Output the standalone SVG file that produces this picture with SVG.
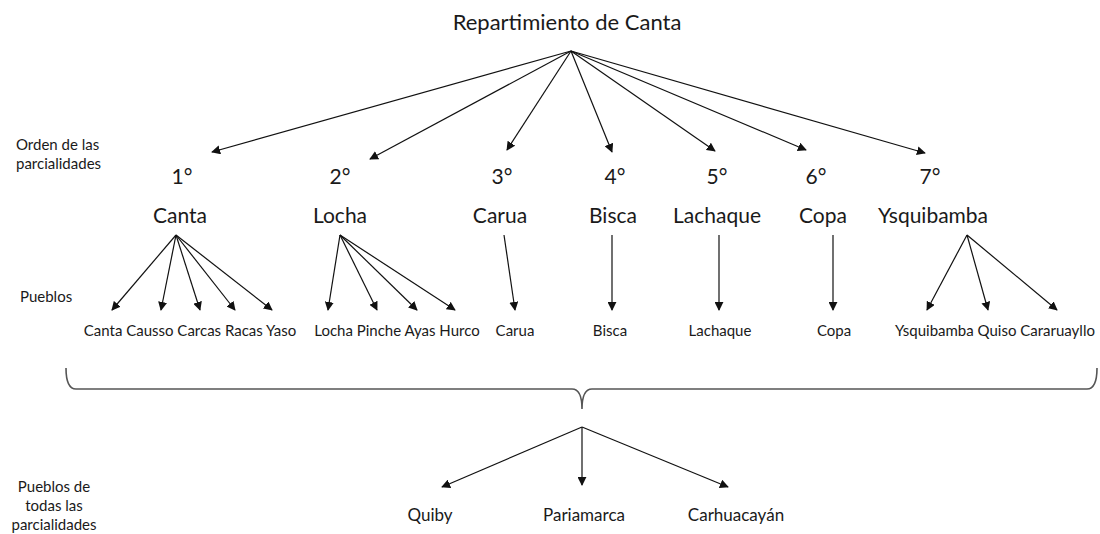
<svg xmlns="http://www.w3.org/2000/svg" width="1100" height="534" viewBox="0 0 1100 534">
<defs>
<marker id="ah" viewBox="0 0 10 10" refX="9" refY="5" markerWidth="9" markerHeight="9" markerUnits="userSpaceOnUse" orient="auto">
<path d="M0,0 L10,5 L0,10 z" fill="#111"/>
</marker>
</defs>
<style>
text{font-family:Lato,"Open Sans","Liberation Sans",sans-serif;fill:#1a1a1a}
.t{font-size:22px}
.n{font-size:21px;text-anchor:middle}
.s{font-size:15px;text-anchor:middle}
.b{font-size:17px;text-anchor:middle}
.l{font-size:15px}
.lc{font-size:15px;text-anchor:middle}
#connectors line{stroke:#111;stroke-width:1.2;marker-end:url(#ah)}
.brace{fill:none;stroke:#555;stroke-width:1.6}
</style>
<rect width="1100" height="534" fill="#fff"/>
<g id="title"><text class="t" x="567" y="30" text-anchor="middle">Repartimiento de Canta</text></g>
<g id="label-orden"><text class="l" x="16" y="150">Orden de las</text><text class="l" x="16" y="169">parcialidades</text></g>
<g id="label-pueblos"><text class="l" x="20" y="302">Pueblos</text></g>
<g id="label-todas"><text class="lc" x="54" y="492">Pueblos de</text><text class="lc" x="54" y="511">todas  las</text><text class="lc" x="54" y="530">parcialidades</text></g>
<g id="p1"><text class="n" x="182" y="184">1°</text><text class="n" x="180" y="223">Canta</text></g>
<g id="p2"><text class="n" x="340" y="184">2°</text><text class="n" x="340" y="223">Locha</text></g>
<g id="p3"><text class="n" x="502" y="184">3°</text><text class="n" x="500" y="223">Carua</text></g>
<g id="p4"><text class="n" x="615" y="184">4°</text><text class="n" x="613" y="223">Bisca</text></g>
<g id="p5"><text class="n" x="717" y="184">5°</text><text class="n" x="717" y="223">Lachaque</text></g>
<g id="p6"><text class="n" x="816" y="184">6°</text><text class="n" x="823" y="223">Copa</text></g>
<g id="p7"><text class="n" x="930" y="184">7°</text><text class="n" x="933" y="223">Ysquibamba</text></g>
<g id="pueblos-canta"><text class="s" x="190" y="336">Canta Causso Carcas Racas Yaso</text></g>
<g id="pueblos-locha"><text class="s" x="397" y="336">Locha Pinche Ayas Hurco</text></g>
<g id="pueblos-carua"><text class="s" x="515" y="336">Carua</text></g>
<g id="pueblos-bisca"><text class="s" x="610" y="336">Bisca</text></g>
<g id="pueblos-lachaque"><text class="s" x="720" y="336">Lachaque</text></g>
<g id="pueblos-copa"><text class="s" x="834" y="336">Copa</text></g>
<g id="pueblos-ysquibamba"><text class="s" x="995" y="336">Ysquibamba Quiso Cararuayllo</text></g>
<g id="brace"><path class="brace" d="M66,368 Q66,389 76,389 L572,389 Q582,389 582,409 Q582,389 592,389 L1087,389 Q1097,389 1097,368"/></g>
<g id="quiby"><text class="b" x="430" y="521">Quiby</text></g>
<g id="pariamarca"><text class="b" x="584" y="521">Pariamarca</text></g>
<g id="carhuacayan"><text class="b" x="736" y="521">Carhuacayán</text></g>
<g id="connectors">
<line x1="571" y1="51" x2="212" y2="152"/>
<line x1="571" y1="51" x2="370" y2="159"/>
<line x1="571" y1="51" x2="507" y2="150"/>
<line x1="571" y1="51" x2="612" y2="152"/>
<line x1="571" y1="51" x2="715" y2="151"/>
<line x1="571" y1="51" x2="806" y2="150"/>
<line x1="571" y1="51" x2="925" y2="153"/>
<line x1="176" y1="235" x2="112" y2="310"/>
<line x1="176" y1="235" x2="161" y2="310"/>
<line x1="176" y1="235" x2="200" y2="310"/>
<line x1="176" y1="235" x2="235" y2="310"/>
<line x1="176" y1="235" x2="272" y2="310"/>
<line x1="340" y1="235" x2="328" y2="310"/>
<line x1="340" y1="235" x2="377" y2="310"/>
<line x1="340" y1="235" x2="417" y2="310"/>
<line x1="340" y1="235" x2="455" y2="310"/>
<line x1="504" y1="235" x2="515" y2="310"/>
<line x1="612" y1="235" x2="612" y2="310"/>
<line x1="719" y1="235" x2="719" y2="310"/>
<line x1="833" y1="235" x2="833" y2="310"/>
<line x1="967" y1="235" x2="927" y2="310"/>
<line x1="967" y1="235" x2="988" y2="310"/>
<line x1="967" y1="235" x2="1057" y2="310"/>
<line x1="582" y1="427" x2="442" y2="487"/>
<line x1="582" y1="427" x2="582" y2="485"/>
<line x1="582" y1="427" x2="728" y2="487"/>
</g>
</svg>
